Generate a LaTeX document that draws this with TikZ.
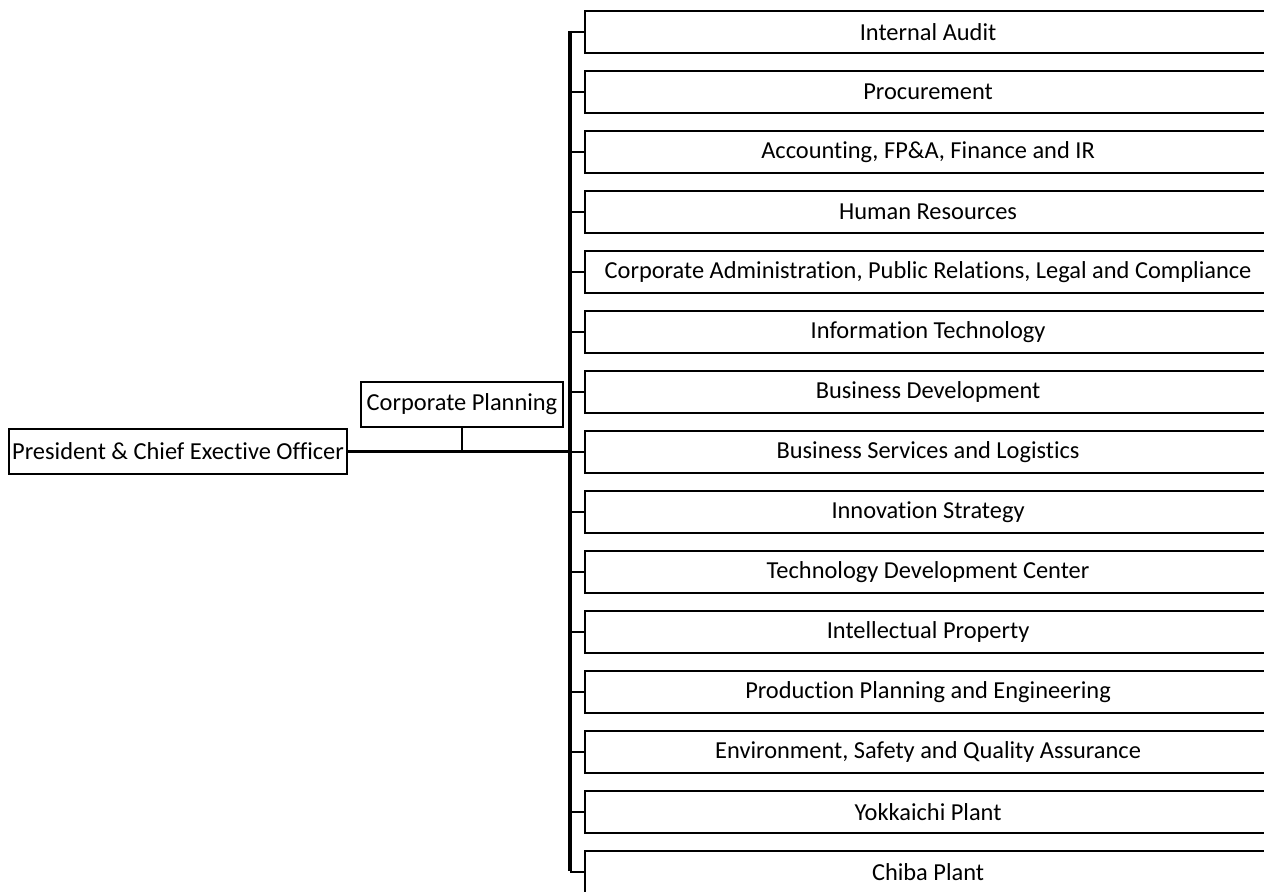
\documentclass[tikz,border=0pt]{standalone}
\usepackage{fontspec}
\setmainfont{Carlito}[Ligatures=NoCommon]
\begin{document}
\begin{tikzpicture}[x=0.75pt,y=-0.75pt,
  box/.style={draw=black,line width=1.6pt,fill=white,inner sep=0pt,font=\fontsize{18.3}{22}\selectfont},
  dept/.style={box,anchor=north west,minimum width=514.5pt,minimum height=31.5pt},
  bus/.style={line width=2.3pt},
  tick/.style={line width=1.6pt}]
\useasboundingbox (0,0) rectangle (1264,892);
\clip (0,0) rectangle (1264,892);
\node[box,minimum width=253.5pt,minimum height=33.75pt] (pres) at (178,451.5) {President \& Chief Exective Officer};
\node[box,minimum width=151.5pt,minimum height=33.75pt] (cp) at (462,404.5) {Corporate Planning};
\foreach \t [count=\i from 0] in {Internal Audit,Procurement,{Accounting, FP\&A, Finance and IR},Human Resources,{Corporate Administration, Public Relations, Legal and Compliance},Information Technology,Business Development,Business Services and Logistics,Innovation Strategy,Technology Development Center,Intellectual Property,Production Planning and Engineering,{Environment, Safety and Quality Assurance},Yokkaichi Plant,Chiba Plant}{
  \node[dept] (d\i) at (584,{10+60*\i}) {\t};
}
\coordinate (bustop) at (570,31);
\coordinate (busbot) at (570,871);
\draw[bus] (bustop) -- (busbot);
\foreach \i in {0,...,14}{
  \draw[tick] (d\i.west -| bustop) -- (d\i.west);
}
\draw[bus] (pres.east) -- (pres.east -| bustop);
\draw[tick] (cp.south) -- (cp.south |- pres.east);
\end{tikzpicture}
\end{document}
